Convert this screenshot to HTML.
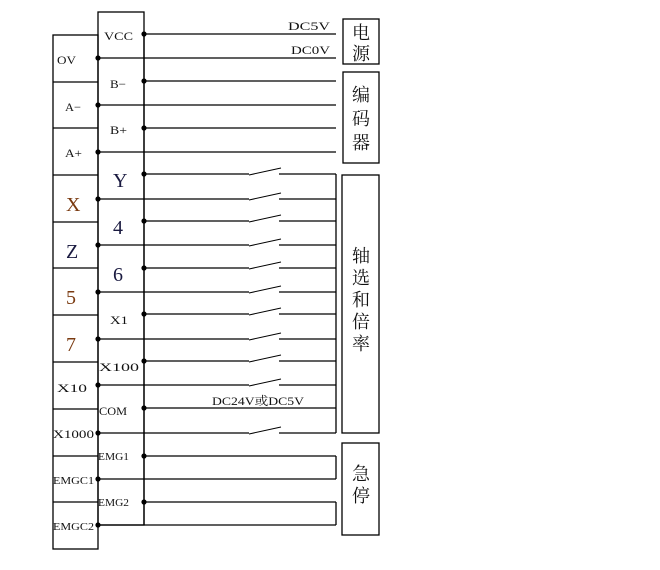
<!DOCTYPE html>
<html><head><meta charset="utf-8"><style>
html,body{margin:0;padding:0;background:#fff;width:660px;height:570px;overflow:hidden}
svg{display:block}
text{font-family:"Liberation Serif","Noto Serif CJK SC",serif;fill:#111}
.cn{font-family:"Noto Serif CJK SC","Noto Sans CJK SC",serif}
</style></head><body>
<svg width="660" height="570" viewBox="0 0 660 570" xmlns="http://www.w3.org/2000/svg">
<g stroke="#000" stroke-width="1.3" fill="none">
<rect x="53" y="35" width="45" height="514"/>
<rect x="98" y="12" width="46" height="513"/>
<line x1="144" y1="34" x2="144" y2="525"/>
<path d="M53 82H98M53 128H98M53 175H98M53 222H98M53 268H98M53 315H98M53 362H98M53 409H98M53 456H98M53 502H98"/>
<path d="M144 34H336M98 58H336M144 81H336M98 105H336M144 128H336M98 152H336M144 408H336M144 456H336M98 479H336M144 502H336M98 525H336"/>
<path d="M144 174H249M279 174H336M98 199H249M279 199H336M144 221H249M279 221H336M98 245H249M279 245H336M144 268H249M279 268H336M98 292H249M279 292H336M144 314H249M279 314H336M98 339H249M279 339H336M144 361H249M279 361H336M98 385H249M279 385H336M98 433H249M279 433H336"/>
<g stroke-width="1">
<path d="M249 175L281 168M249 200L281 193M249 222L281 215M249 246L281 239M249 269L281 262M249 293L281 286M249 315L281 308M249 340L281 333M249 362L281 355M249 386L281 379M249 434L281 427"/>
</g>
<line x1="336" y1="174" x2="336" y2="433"/>
<line x1="336" y1="456" x2="336" y2="479"/>
<line x1="336" y1="502" x2="336" y2="525"/>
<rect x="343" y="19" width="36" height="45"/>
<rect x="343" y="72" width="36" height="91"/>
<rect x="342" y="175" width="37" height="258"/>
<rect x="342" y="443" width="37" height="92"/>
</g>
<g fill="#000">
<circle cx="144" cy="34" r="2.6"/><circle cx="144" cy="81" r="2.6"/><circle cx="144" cy="128" r="2.6"/><circle cx="144" cy="174" r="2.6"/><circle cx="144" cy="221" r="2.6"/><circle cx="144" cy="268" r="2.6"/><circle cx="144" cy="314" r="2.6"/><circle cx="144" cy="361" r="2.6"/><circle cx="144" cy="408" r="2.6"/><circle cx="144" cy="456" r="2.6"/><circle cx="144" cy="502" r="2.6"/>
<circle cx="98" cy="58" r="2.6"/><circle cx="98" cy="105" r="2.6"/><circle cx="98" cy="152" r="2.6"/><circle cx="98" cy="199" r="2.6"/><circle cx="98" cy="245" r="2.6"/><circle cx="98" cy="292" r="2.6"/><circle cx="98" cy="339" r="2.6"/><circle cx="98" cy="385" r="2.6"/><circle cx="98" cy="433" r="2.6"/><circle cx="98" cy="479" r="2.6"/><circle cx="98" cy="525" r="2.6"/>
</g>
<g font-size="12" font-weight="normal">
<text x="104" y="40" textLength="29" lengthAdjust="spacingAndGlyphs">VCC</text>
<text x="57" y="64" textLength="19" lengthAdjust="spacingAndGlyphs">OV</text>
<text x="110" y="88" textLength="16" lengthAdjust="spacingAndGlyphs">B−</text>
<text x="65" y="111" textLength="16" lengthAdjust="spacingAndGlyphs">A−</text>
<text x="110" y="134" textLength="17" lengthAdjust="spacingAndGlyphs">B+</text>
<text x="65" y="157" textLength="17" lengthAdjust="spacingAndGlyphs">A+</text>
<text x="110" y="324" textLength="18" lengthAdjust="spacingAndGlyphs">X1</text>
<text x="99" y="371" textLength="40" lengthAdjust="spacingAndGlyphs">X100</text>
<text x="57" y="392" textLength="30" lengthAdjust="spacingAndGlyphs">X10</text>
<text x="99" y="415" textLength="28" lengthAdjust="spacingAndGlyphs">COM</text>
<text x="53" y="438" textLength="41" lengthAdjust="spacingAndGlyphs">X1000</text>
<text x="98" y="460" font-size="11" textLength="31" lengthAdjust="spacingAndGlyphs">EMG1</text>
<text x="53" y="484" font-size="11" textLength="41" lengthAdjust="spacingAndGlyphs">EMGC1</text>
<text x="98" y="506" font-size="11" textLength="31" lengthAdjust="spacingAndGlyphs">EMG2</text>
<text x="53" y="530" font-size="11" textLength="41" lengthAdjust="spacingAndGlyphs">EMGC2</text>
<text x="288" y="30" textLength="42" lengthAdjust="spacingAndGlyphs">DC5V</text>
<text x="291" y="54" textLength="39" lengthAdjust="spacingAndGlyphs">DC0V</text>
<text x="212" y="405" textLength="92" lengthAdjust="spacingAndGlyphs">DC24V或DC5V</text>
</g>
<g font-size="20">
<text x="113" y="187" style="fill:#1a1a40">Y</text>
<text x="66" y="211" style="fill:#7a3a10">X</text>
<text x="113" y="234" style="fill:#1a1a40">4</text>
<text x="66" y="258" style="fill:#1a1a40">Z</text>
<text x="113" y="281" style="fill:#1a1a40">6</text>
<text x="66" y="304" style="fill:#7a3a10">5</text>
<text x="66" y="351" style="fill:#7a3a10">7</text>
</g>
<g class="cn" font-size="18" text-anchor="middle">
<text x="361" y="39">电</text><text x="361" y="60">源</text>
<text x="361" y="101">编</text><text x="361" y="125">码</text><text x="361" y="149">器</text>
<text x="361" y="262">轴</text><text x="361" y="284">选</text><text x="361" y="306">和</text><text x="361" y="328">倍</text><text x="361" y="350">率</text>
<text x="361" y="480">急</text><text x="361" y="502">停</text>
</g>
</svg>
</body></html>
